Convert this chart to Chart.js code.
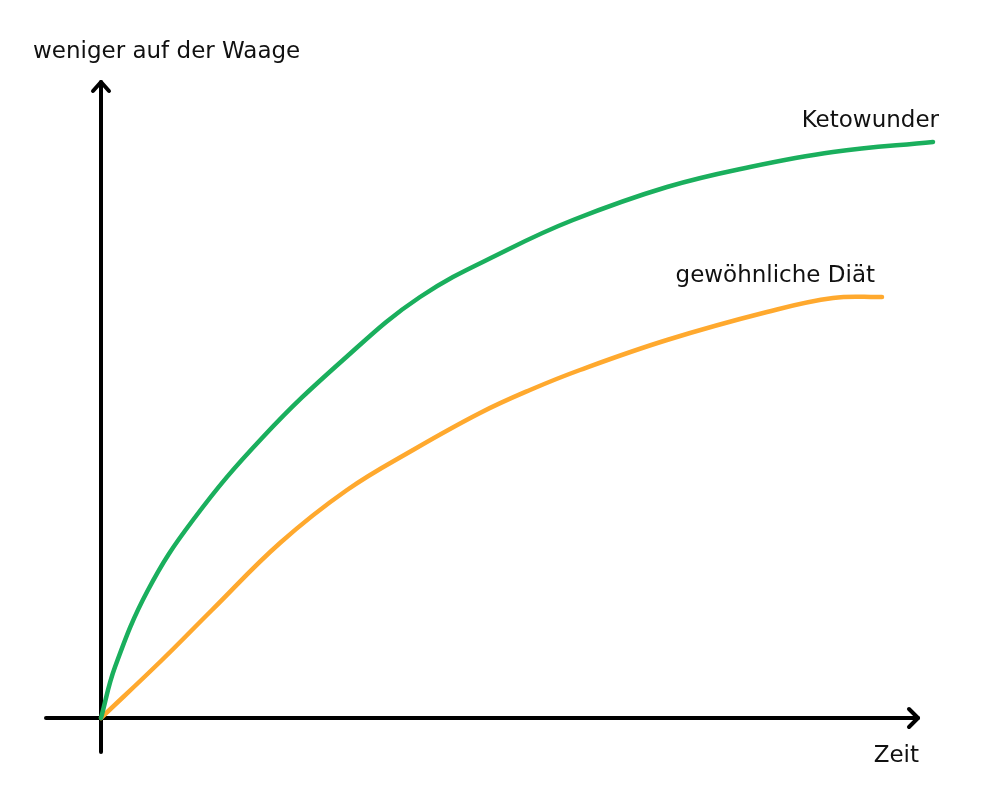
<!DOCTYPE html>
<html>
<head>
<meta charset="utf-8">
<script src="https://cdn.jsdelivr.net/npm/chart.js@4"></script>
<style>
  html, body { margin: 0; padding: 0; background: #ffffff; }
  #wrap { width: 1000px; height: 800px; }
</style>
</head>
<body>
<div id="wrap"><canvas id="chart" width="1000" height="800"></canvas></div>
<script>
// time (x) and weight lost (y), arbitrary units measured from the origin
var ketoTime = [0, 14, 47, 92, 162, 242, 319, 406, 472, 566, 649, 732, 832];
var ketoLoss = [0, 51, 128, 198, 281, 358, 421, 468, 498, 531, 551, 566, 576];

var dietTime = [0, 61, 111, 179, 246, 312, 379, 429, 479, 566, 666, 732, 781];
var dietLoss = [0, 58, 108, 175, 228, 268, 305, 328, 348, 378, 406, 420, 421];

var seriesNames = ["Ketowunder", "gewöhnliche Diät"];
var axisTitleY = "weniger auf der Waage";
var axisTitleX = "Zeit";

function toPoints(xs, ys) {
  var pts = [];
  xs.forEach(function (x, i) {
    pts.push({ x: x, y: ys[i] });
  });
  return pts;
}

var sketchAxes = {
  id: "sketchAxes",
  beforeDatasetsDraw: function (chart) {
    var ctx = chart.ctx;
    var xs = chart.scales.x;
    var ys = chart.scales.y;
    var ox = xs.getPixelForValue(0);
    var oy = ys.getPixelForValue(0);
    ctx.save();
    ctx.strokeStyle = "#000";
    ctx.lineWidth = 4;
    ctx.lineCap = "round";
    ctx.lineJoin = "round";
    // x axis
    ctx.beginPath();
    ctx.moveTo(ox - 55, oy);
    ctx.lineTo(ox + 817, oy);
    ctx.stroke();
    ctx.beginPath();
    ctx.moveTo(ox + 808, oy - 9);
    ctx.lineTo(ox + 817, oy);
    ctx.lineTo(ox + 808, oy + 9);
    ctx.stroke();
    // y axis
    ctx.beginPath();
    ctx.moveTo(ox, oy + 34);
    ctx.lineTo(ox, oy - 636);
    ctx.stroke();
    ctx.beginPath();
    ctx.moveTo(ox - 8, oy - 627);
    ctx.lineTo(ox, oy - 636);
    ctx.lineTo(ox + 8, oy - 627);
    ctx.stroke();
    ctx.restore();
  },
  afterDatasetsDraw: function (chart) {
    var ctx = chart.ctx;
    var xs = chart.scales.x;
    var ys = chart.scales.y;
    var ox = xs.getPixelForValue(0);
    var oy = ys.getPixelForValue(0);
    ctx.save();
    ctx.fillStyle = "#111";
    ctx.font = "23px 'DejaVu Sans'";
    ctx.textBaseline = "middle";
    ctx.textAlign = "left";
    ctx.fillText(axisTitleY, 33, 52);
    ctx.textAlign = "right";
    ctx.fillText(axisTitleX, ox + 818, oy + 38);
    // series labels above the line ends
    var k = ketoTime.length - 1;
    var d = dietTime.length - 1;
    ctx.fillText(seriesNames[0], xs.getPixelForValue(ketoTime[k]) + 6, ys.getPixelForValue(ketoLoss[k]) - 21);
    ctx.fillText(seriesNames[1], xs.getPixelForValue(dietTime[d]) - 7, ys.getPixelForValue(dietLoss[d]) - 21);
    ctx.restore();
  }
};

var ctx = document.getElementById("chart").getContext("2d");
var chart = new Chart(ctx, {
  type: "line",
  data: {
    datasets: [
      {
        label: seriesNames[0],
        data: toPoints(ketoTime, ketoLoss),
        borderColor: "#1aaf5d",
        borderWidth: 4.5,
        borderCapStyle: "round",
        pointRadius: 0,
        tension: 0.4,
        fill: false
      },
      {
        label: seriesNames[1],
        data: toPoints(dietTime, dietLoss),
        borderColor: "#ffa92e",
        borderWidth: 4.5,
        borderCapStyle: "round",
        pointRadius: 0,
        tension: 0.4,
        fill: false
      }
    ]
  },
  options: {
    responsive: false,
    animation: false,
    layout: { padding: 0 },
    scales: {
      x: { type: "linear", display: false, min: -101, max: 899 },
      y: { type: "linear", display: false, min: -82, max: 718 }
    },
    plugins: {
      legend: { display: false },
      tooltip: { enabled: false }
    }
  },
  plugins: [sketchAxes]
});
</script>
</body>
</html>
